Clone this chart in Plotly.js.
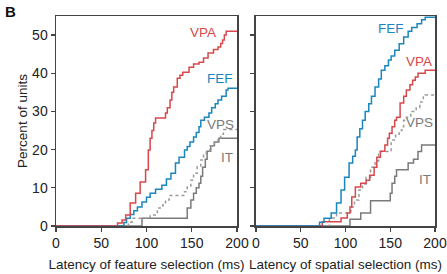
<!DOCTYPE html>
<html>
<head>
<meta charset="utf-8">
<script src="https://cdn.plot.ly/plotly-3.0.1.min.js"></script>
<style>html,body{margin:0;padding:0;background:#fff;}#chart{width:447px;height:274px;}</style>
</head>
<body>
<div id="chart"></div>
<script>
// Latency (ms) and cumulative percent of units — feature selection (left panel)
const featVPA_x = [0,67,68,73,77,82,88,93,99,102,104,106,108,110,119,121,123,126,128,130,134,137,140,147,152,158,163,168,174,179,182,184,186,188,200];
const featVPA_y = [0,0,0.8,1.6,2.9,6,8.6,11.5,14.7,19.9,23,25,27,28.3,28.3,29.6,31,33,35,36.4,38.7,39.5,40.3,41.6,42.4,42.9,44,45.3,46.2,46.9,47.8,48.7,50,51,51];
const featFEF_x = [0,73,75,78,82,86,90,95,100,104,110,117,122,127,132,136,142,145,148,152,155,158,160,164,169,172,176,179,183,188,190,200];
const featFEF_y = [0,0,0.9,2,3,4,5,6.3,7.5,8.6,9.6,10.7,12.3,13.8,16.5,18,19.9,20.8,22,23.3,24.5,26,27.7,28.5,29.6,31,32,33,34,35.6,36.1,36.1];
const featVPS_x = [0,80,84,95,104,112,118,121,125,140,142,145,149,152,156,160,163,166,170,175,179,182,185,200];
const featVPS_y = [0,1.0,2,2,2.9,4.7,5.5,6.8,8,8,9,10.2,12,13.8,15.5,17.3,18.5,19.6,21,22,23,24,25.3,25.3];
const featIT_x = [0,95,143,145,149,152,155,158,160,162,165,167,171,175,180,200];
const featIT_y = [0,2,2,4.7,6.8,8.6,10,11.2,13,15.4,17.5,19.6,21,22,23,23];

// Latency (ms) and cumulative percent of units — spatial selection (right panel)
const spatFEF_x = [0,67,71,76,84,90,95,99,104,108,111,113,116,119,122,126,129,133,137,140,144,148,151,155,160,165,170,174,180,185,189,200];
const spatFEF_y = [0,0,1,2,3.4,6,9.4,12.8,16.5,18.3,19.9,23.3,25.5,27.7,30,32,34,36.4,38.5,40.8,42,43.5,44.5,46,47.7,49.5,51,52,53,54,54.7,54.7];
const spatVPA_x = [0,71,74,95,102,105,107,111,117,123,127,132,135,139,144,147,149,152,155,157,161,165,168,172,175,178,181,189,200];
const spatVPA_y = [0,0,1.1,2.1,3.4,5,7.6,10.2,11.2,12,13.3,15.4,18,19.6,21.2,23,24.3,26,27.7,28.5,32.2,34,35.6,37,38.2,39,40,40.8,40.8];
const spatVPS_x = [0,82,90,101,106,110,115,119,123,128,133,137,149,151,156,160,163,165,168,173,179,183,187,189,200];
const spatVPS_y = [0,2.1,3.4,3.4,5,6.8,9.4,11,12.8,15.4,17,19.5,19.5,22.5,24,25,26,27.7,28.5,30,31,32.5,33.8,34.3,34.3];
const spatIT_x = [0,104,105,117,128,150,152,155,157,168,170,176,181,185,200];
const spatIT_y = [0,0,1.8,3.4,6.6,8.6,11.2,13,14.7,14.7,16.5,17.5,19.5,21.2,21.2];

// Area labels
const labelText = ['VPA','FEF','VPS','IT'];
const featLabelX = [162,181,182,189];
const featLabelY = [50.8,38.7,26.7,18];
const spatLabelText = ['FEF','VPA','VPS','IT'];
const spatLabelX = [151,182,183,188.5];
const spatLabelY = [51.8,43.2,27.2,12.3];
const xTicks = [0,50,100,150,200];
const yTicks = [0,10,20,30,40,50];

const RED = '#d8474a', BLUE = '#1a86bd', GRAY = '#7a7a7a', DGRAY = '#9a9a9a';
const colorOf = {VPA: RED, FEF: BLUE, VPS: GRAY, IT: GRAY};

function tr(x, y, color, dash, xa, ya) {
  return {x: x, y: y, type: 'scatter', mode: 'lines', xaxis: xa, yaxis: ya,
          line: {color: color, width: 1.5, shape: 'hv', dash: dash}, hoverinfo: 'skip', showlegend: false};
}

const data = [
  tr(featIT_x, featIT_y, GRAY, 'solid', 'x', 'y'),
  tr(featVPS_x, featVPS_y, DGRAY, 'dot', 'x', 'y'),
  tr(featFEF_x, featFEF_y, BLUE, 'solid', 'x', 'y'),
  tr(featVPA_x, featVPA_y, RED, 'solid', 'x', 'y'),
  tr(spatIT_x, spatIT_y, GRAY, 'solid', 'x2', 'y2'),
  tr(spatVPS_x, spatVPS_y, DGRAY, 'dot', 'x2', 'y2'),
  tr(spatVPA_x, spatVPA_y, RED, 'solid', 'x2', 'y2'),
  tr(spatFEF_x, spatFEF_y, BLUE, 'solid', 'x2', 'y2')
];

const FONT = '"Liberation Sans", Arial, Helvetica, sans-serif';
const annotations = [];
labelText.forEach((t, i) => annotations.push({x: featLabelX[i], y: featLabelY[i], xref: 'x', yref: 'y', text: t,
  showarrow: false, xanchor: 'center', yanchor: 'middle', font: {family: FONT, size: 13.5, color: colorOf[t]}}));
spatLabelText.forEach((t, i) => annotations.push({x: spatLabelX[i], y: spatLabelY[i], xref: 'x2', yref: 'y2', text: t,
  showarrow: false, xanchor: 'center', yanchor: 'middle', font: {family: FONT, size: 13.5, color: colorOf[t]}}));
annotations.push({x: -0.12, y: 1.02, xref: 'paper', yref: 'paper', text: '<b>B</b>', showarrow: false,
  xanchor: 'center', yanchor: 'middle', font: {family: FONT, size: 15, color: '#111'}});

const axBase = {showgrid: false, zeroline: false, showline: true, linecolor: '#444', linewidth: 1.5, mirror: true,
  ticks: 'outside', ticklen: 4, tickwidth: 1.2, tickcolor: '#444', ticklabeloverflow: 'allow',
  tickfont: {family: FONT, size: 14, color: '#222'}};
const titleFont = {family: FONT, size: 13.5, color: '#222'};

const layout = {
  width: 447, height: 274,
  margin: {l: 56, r: 12, t: 16, b: 48},
  paper_bgcolor: '#fff', plot_bgcolor: '#fff',
  font: {family: FONT, color: '#222'},
  xaxis: Object.assign({}, axBase, {domain: [0, 0.4776], range: [0, 200], tickvals: xTicks, anchor: 'y',
    title: {text: 'Latency of feature selection (ms)', font: titleFont, standoff: 9}}),
  yaxis: Object.assign({}, axBase, {range: [0, 55], tickvals: yTicks, anchor: 'x',
    title: {text: 'Percent of units', font: titleFont, standoff: 1}}),
  xaxis2: Object.assign({}, axBase, {domain: [0.5277, 1], range: [0, 200], tickvals: xTicks, anchor: 'y2',
    title: {text: 'Latency of spatial selection (ms)', font: titleFont, standoff: 9}}),
  yaxis2: Object.assign({}, axBase, {range: [0, 55], tickvals: yTicks, anchor: 'x2', showticklabels: false}),
  annotations: annotations
};

Plotly.newPlot('chart', data, layout, {displayModeBar: false, staticPlot: true});
</script>
</body>
</html>
